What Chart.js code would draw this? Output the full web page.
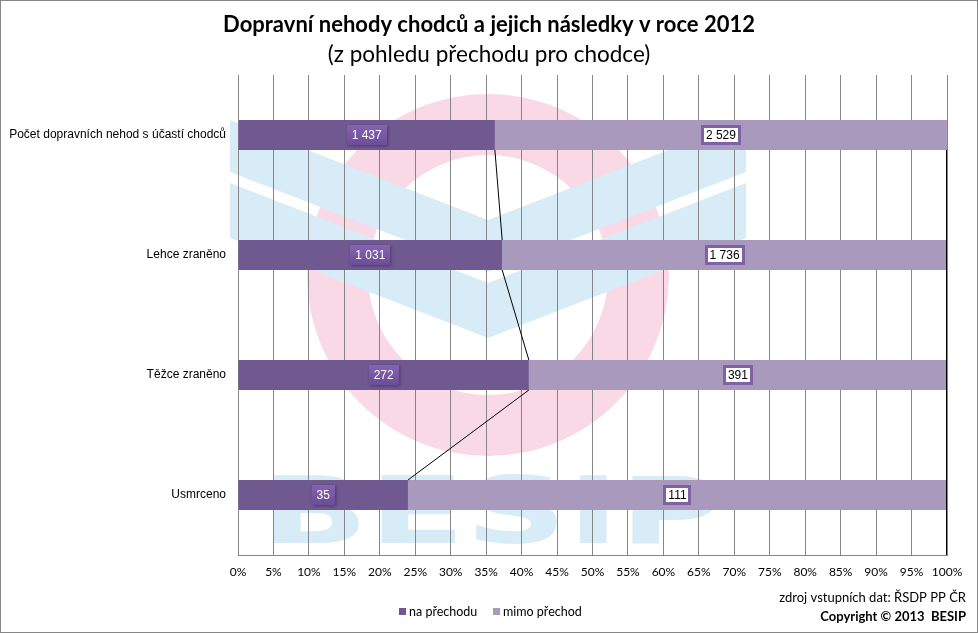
<!DOCTYPE html>
<html>
<head>
<meta charset="utf-8">
<script src="https://cdn.jsdelivr.net/npm/chart.js@4"></script>
<style>
  html, body { margin: 0; padding: 0; background: #fff; }
  #wrap { width: 978px; height: 633px; position: relative; }
</style>
</head>
<body>
<div id="wrap"><canvas id="c" width="978" height="633"></canvas></div>
<script>
'use strict'

// data
var categories = ['Počet dopravních nehod s účastí chodců', 'Lehce zraněno', 'Těžce zraněno', 'Usmrceno']
var naPrechodu = [1437, 1031, 272, 35]
var mimoPrechod = [2529, 1736, 391, 111]
var seriesNames = ['na přechodu', 'mimo přechod']
var tickStep = 5
var titleText = 'Dopravní nehody chodců a jejich následky v roce 2012'
var subtitleText = '(z pohledu přechodu pro chodce)'

var DARK = '#705890'
var LIGHT = '#a899bd'
var CALIBRI = 'Lato, "Open Sans", sans-serif'
var TAHOMA = '"Liberation Sans", Arial, sans-serif'

// 100% stacked shares
var totals = naPrechodu.map(function (v, i) { return v + mimoPrechod[i] })
var pctNa = naPrechodu.map(function (v, i) { return v / totals[i] * 100 })
var pctMimo = mimoPrechod.map(function (v, i) { return v / totals[i] * 100 })

function fmt(n) {
  return String(n).replace(/\B(?=(\d{3})+(?!\d))/g, ' ')
}

// BESIP logo watermark behind the plot
var watermark = {
  id: 'watermark',
  beforeDraw: function (chart) {
    var ctx = chart.ctx
    ctx.save()
    ctx.fillStyle = '#fff'
    ctx.fillRect(0, 0, chart.width, chart.height)
    // pink ring
    ctx.beginPath()
    ctx.arc(488, 275, 181, 0, Math.PI * 2)
    ctx.arc(488, 275, 120, 0, Math.PI * 2, true)
    ctx.fillStyle = '#f9d9e5'
    ctx.fill()
    // blue chevrons
    ctx.fillStyle = '#d8ecf7'
    var bands = [[120, 172], [183, 238]]
    bands.forEach(function (b) {
      ctx.beginPath()
      ctx.moveTo(230, b[0])
      ctx.lineTo(488, b[0] + 100)
      ctx.lineTo(746, b[0])
      ctx.lineTo(746, b[1])
      ctx.lineTo(488, b[1] + 100)
      ctx.lineTo(230, b[1])
      ctx.closePath()
      ctx.fill()
    })
    // BESIP letters
    ctx.font = 'bold 92px "DejaVu Sans", sans-serif'
    ctx.textBaseline = 'alphabetic'
    var w = ctx.measureText('BESIP').width
    ctx.translate(261, 543)
    ctx.scale(462 / w, 1)
    ctx.fillText('BESIP', 0, 0)
    ctx.restore()
  }
}

// titles, labels, series lines, legend, source notes
var extras = {
  id: 'extras',
  afterDatasetsDraw: function (chart) {
    var ctx = chart.ctx
    var m0 = chart.getDatasetMeta(0)
    var m1 = chart.getDatasetMeta(1)
    var area = chart.chartArea
    ctx.save()

    // titles, centred on the whole canvas
    ctx.fillStyle = '#000'
    ctx.textAlign = 'center'
    ctx.textBaseline = 'middle'
    ctx.font = 'bold 22px ' + CALIBRI
    ctx.fillText(titleText, chart.width / 2, 25)
    ctx.font = '22.5px ' + CALIBRI
    ctx.fillText(subtitleText, chart.width / 2, 55)

    // right edge line
    var first = m1.data[0]
    ctx.strokeStyle = '#000'
    ctx.lineWidth = 1
    ctx.beginPath()
    ctx.moveTo(Math.round(area.right) - 0.5, first.y + first.height / 2)
    ctx.lineTo(Math.round(area.right) - 0.5, area.bottom)
    ctx.stroke()

    // series lines
    ctx.beginPath()
    for (var i = 0; i < m0.data.length - 1; i++) {
      var a = m0.data[i], b = m0.data[i + 1]
      ctx.moveTo(a.x, a.y + a.height / 2)
      ctx.lineTo(b.x, b.y - b.height / 2)
    }
    ctx.stroke()

    // data labels
    ctx.font = '12px ' + TAHOMA
    ctx.textAlign = 'center'
    ctx.textBaseline = 'middle'
    var raw = [naPrechodu, mimoPrechod]
    ;[m0, m1].forEach(function (meta, d) {
      meta.data.forEach(function (el, j) {
        var txt = fmt(raw[d][j])
        var cx = (el.x + el.base) / 2
        var cy = el.y
        var tw = ctx.measureText(txt).width
        var bw = Math.round(tw + 10), bh = 20
        var bx = Math.round(cx - bw / 2), by = Math.round(cy - bh / 2)
        if (d === 0) {
          ctx.shadowColor = 'rgba(0,0,0,0.35)'
          ctx.shadowBlur = 3
          ctx.shadowOffsetX = 1
          ctx.shadowOffsetY = 1
          var g = ctx.createLinearGradient(0, by, 0, by + bh)
          g.addColorStop(0, '#8563b3')
          g.addColorStop(1, '#6c4d98')
          ctx.fillStyle = g
          ctx.fillRect(bx, by, bw, bh)
          ctx.shadowColor = 'transparent'
          ctx.fillStyle = '#fff'
          ctx.fillText(txt, cx, cy + 0.5)
        } else {
          ctx.fillStyle = '#fff'
          ctx.fillRect(bx, by, bw, bh)
          ctx.strokeStyle = '#7f62a5'
          ctx.lineWidth = 3
          ctx.strokeRect(bx + 1.5, by + 1.5, bw - 3, bh - 3)
          ctx.fillStyle = '#000'
          ctx.fillText(txt, cx, cy + 0.5)
        }
      })
    })

    // legend
    ctx.font = '12.5px ' + CALIBRI
    ctx.textAlign = 'left'
    ctx.textBaseline = 'middle'
    var lx = [399, 493]
    ;[DARK, LIGHT].forEach(function (c, k) {
      ctx.fillStyle = c
      ctx.fillRect(lx[k], 608, 7, 7)
      ctx.fillStyle = '#000'
      ctx.fillText(seriesNames[k], lx[k] + 10, 611.5)
    })

    // source notes
    ctx.textAlign = 'right'
    ctx.font = '13px ' + CALIBRI
    ctx.fillText('zdroj vstupních dat: ŘSDP PP ČR', 966, 598)
    ctx.font = 'bold 13px ' + CALIBRI
    ctx.fillText('Copyright © 2013  BESIP', 966, 617)

    // outer frame
    ctx.strokeStyle = '#868686'
    ctx.lineWidth = 1
    ctx.strokeRect(0.5, 0.5, chart.width - 1, chart.height - 1)
    ctx.restore()
  }
}

new Chart(document.getElementById('c'), {
  type: 'bar',
  data: {
    labels: categories,
    datasets: [
      { label: seriesNames[0], data: pctNa, backgroundColor: DARK },
      { label: seriesNames[1], data: pctMimo, backgroundColor: LIGHT }
    ]
  },
  options: {
    indexAxis: 'y',
    responsive: false,
    animation: false,
    events: [],
    barPercentage: 0.25,
    categoryPercentage: 1,
    layout: { padding: { left: 0, right: 31, top: 75, bottom: 0 } },
    plugins: {
      legend: { display: false },
      tooltip: { enabled: false },
      title: { display: false }
    },
    scales: {
      x: {
        stacked: true,
        min: 0,
        max: 100,
        afterFit: function (s) { s.height = 78 },
        ticks: {
          stepSize: tickStep,
          color: '#000',
          padding: 10,
          maxRotation: 0,
          autoSkip: false,
          font: { family: CALIBRI, size: 12 },
          callback: function (v) { return v + '%' }
        },
        grid: { color: '#868686', drawTicks: false },
        border: { color: '#868686' }
      },
      y: {
        stacked: true,
        afterFit: function (s) { s.width = 238 },
        ticks: {
          color: '#000',
          padding: 4,
          font: { family: TAHOMA, size: 12 }
        },
        grid: { display: false },
        border: { color: '#868686' }
      }
    }
  },
  plugins: [watermark, extras]
})
</script>
</body>
</html>
